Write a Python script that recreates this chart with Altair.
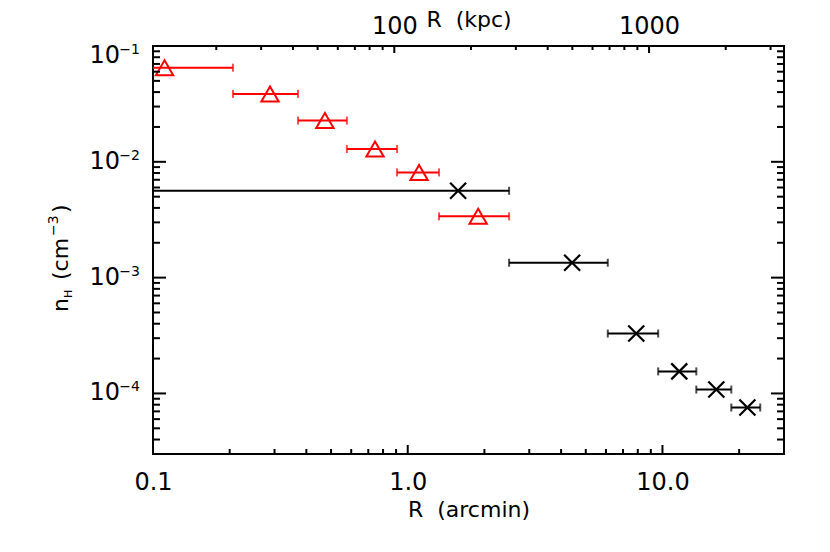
import altair as alt
import pandas as pd

# ---- data ----
red_r  = [0.111, 0.288, 0.473, 0.744, 1.108, 1.89]
red_lo = [0.05, 0.206, 0.371, 0.577, 0.908, 1.327]
red_hi = [0.206, 0.371, 0.577, 0.908, 1.327, 2.50]
red_n  = [0.065, 0.0386, 0.0227, 0.0129, 0.0081, 0.00338]

black_r  = [1.577, 4.42, 7.89, 11.64, 16.27, 21.55]
black_lo = [0.05, 2.50, 6.10, 9.62, 13.58, 18.63]
black_hi = [2.50, 6.10, 9.62, 13.58, 18.63, 24.2]
black_n  = [0.00562, 0.001345, 0.000329, 0.000155, 0.000108, 0.0000756]

x_major = [0.1, 1.0, 10.0]
x_minor = [0.2, 0.3, 0.4, 0.5, 0.6, 0.7, 0.8, 0.9,
           2, 3, 4, 5, 6, 7, 8, 9, 20, 30]
y_major = [1e-4, 1e-3, 1e-2, 1e-1]
y_exp_labels = ["\u22124", "\u22123", "\u22122", "\u22121"]
y_minor = [4e-5, 5e-5, 6e-5, 7e-5, 8e-5, 9e-5,
           2e-4, 3e-4, 4e-4, 5e-4, 6e-4, 7e-4, 8e-4, 9e-4,
           2e-3, 3e-3, 4e-3, 5e-3, 6e-3, 7e-3, 8e-3, 9e-3,
           2e-2, 3e-2, 4e-2, 5e-2, 6e-2, 7e-2, 8e-2, 9e-2]
kpc_major = [100, 1000]
kpc_minor = [20, 30, 40, 50, 60, 70, 80, 90,
             200, 300, 400, 500, 600, 700, 800, 900, 2000, 3000]

X_DOM = [0.1, 30]
Y_DOM = [3e-5, 0.1]
KPC_PER_ARCMIN = 112.9
K_DOM = [X_DOM[0] * KPC_PER_ARCMIN, X_DOM[1] * KPC_PER_ARCMIN]

W, H = 631, 408
FONT = "DejaVu Sans"
NB = "\u00a0"

xs = alt.Scale(type="log", domain=X_DOM)
ys = alt.Scale(type="log", domain=Y_DOM)
ks = alt.Scale(type="log", domain=K_DOM)

red = pd.DataFrame(dict(r=red_r, lo=red_lo, hi=red_hi, n=red_n))
black = pd.DataFrame(dict(r=black_r, lo=black_lo, hi=black_hi, n=black_n))
ylab = pd.DataFrame(dict(v=y_major, e=y_exp_labels))

common_axis = dict(ticks=False, domain=False, grid=False, labelFlush=False,
                   labelFont=FONT, titleFont=FONT, labelColor="black",
                   titleColor="black", titleFontWeight="normal",
                   labelFontSize=24, titleFontSize=22)

x_axis = alt.Axis(values=x_major, labelExpr="format(datum.value, '.1f')",
                  title="R" + NB + " (arcmin)", labelPadding=16, titlePadding=5,
                  **common_axis)
k_axis = alt.Axis(orient="top", values=kpc_major, format="d",
                  title="R" + NB + " (kpc)", labelPadding=8, titlePadding=-17,
                  **common_axis)

# axis-bearing layers (major ticks + labels)
x_axis_layer = alt.Chart(pd.DataFrame({"v": x_major})).mark_rule(color="black", strokeWidth=2).encode(
    x=alt.X("v:Q", scale=xs, axis=x_axis),
    y=alt.value(H), y2=alt.value(H - 9),
)
k_axis_layer = alt.Chart(pd.DataFrame({"v": kpc_major})).mark_rule(color="black", strokeWidth=2).encode(
    x=alt.X("v:Q", scale=ks, axis=k_axis),
    y=alt.value(0), y2=alt.value(7),
)


def bars(df, color):
    rule = alt.Chart(df).mark_rule(color=color, strokeWidth=2, clip=True).encode(
        x=alt.X("lo:Q", scale=xs, axis=None),
        x2="hi:Q",
        y=alt.Y("n:Q", scale=ys, axis=None),
    )
    cap_lo = alt.Chart(df).mark_tick(color=color, orient="vertical", size=8,
                                     thickness=2, clip=True).encode(
        x=alt.X("lo:Q", scale=xs, axis=None),
        y=alt.Y("n:Q", scale=ys, axis=None),
    )
    cap_hi = alt.Chart(df).mark_tick(color=color, orient="vertical", size=8,
                                     thickness=2, clip=True).encode(
        x=alt.X("hi:Q", scale=xs, axis=None),
        y=alt.Y("n:Q", scale=ys, axis=None),
    )
    return [rule, cap_lo, cap_hi]


red_pts = alt.Chart(red).mark_point(shape="triangle-up", filled=False, color="red",
                                    strokeWidth=2, size=300, opacity=1).encode(
    x=alt.X("r:Q", scale=xs, axis=None),
    y=alt.Y("n:Q", scale=ys, axis=None),
)
black_pts = alt.Chart(black).mark_point(shape="M-1,-1L1,1M-1,1L1,-1", filled=False,
                                        color="black", strokeWidth=2.2, size=256,
                                        opacity=1).encode(
    x=alt.X("r:Q", scale=xs, axis=None),
    y=alt.Y("n:Q", scale=ys, axis=None),
)


def xticks(vals, length):
    return alt.Chart(pd.DataFrame({"v": vals})).mark_rule(color="black", strokeWidth=2).encode(
        x=alt.X("v:Q", scale=xs, axis=None),
        y=alt.value(H), y2=alt.value(H - length),
    )


def yticks(vals, length, right=False):
    x0 = W if right else 0
    x1 = W - length if right else length
    return alt.Chart(pd.DataFrame({"v": vals})).mark_rule(color="black", strokeWidth=2).encode(
        y=alt.Y("v:Q", scale=ys, axis=None),
        x=alt.value(x0), x2=alt.value(x1),
    )


def kticks(vals, length):
    return alt.Chart(pd.DataFrame({"v": vals})).mark_rule(color="black", strokeWidth=2).encode(
        x=alt.X("v:Q", scale=ks, axis=None),
        y=alt.value(0), y2=alt.value(length),
    )


# y tick labels: "10" with a raised exponent; the top one sits flush below the frame
def ylabels(df, shift):
    base = alt.Chart(df).mark_text(text="10", font=FONT, fontSize=24, align="right",
                                   baseline="middle", dx=-20, dy=shift, color="black").encode(
        y=alt.Y("v:Q", scale=ys, axis=None), x=alt.value(-13),
    )
    sup = alt.Chart(df).mark_text(font=FONT, fontSize=14, align="right",
                                  baseline="middle", dy=shift - 6, color="black").encode(
        y=alt.Y("v:Q", scale=ys, axis=None), x=alt.value(-13), text="e:N",
    )
    return [base, sup]


ylab_inner = ylab[ylab.v < 0.05]
ylab_top = ylab[ylab.v > 0.05]


# y-axis title: n_H (cm^-3), rotated
def ytitle_piece(txt, size, dx, dy=0):
    return alt.Chart(pd.DataFrame({"t": [txt]})).mark_text(
        font=FONT, fontSize=size, angle=270, align="left", baseline="alphabetic",
        dx=dx, dy=dy, color="black").encode(
        text="t:N", x=alt.value(-85), y=alt.value(266))


ytitle = [
    ytitle_piece("n", 22, 0),
    ytitle_piece("H", 11, 14, 4),
    ytitle_piece("(cm", 22, 32),
    ytitle_piece("\u22123", 14, 76, -10),
    ytitle_piece(")", 22, 99),
]

chart = alt.layer(
    x_axis_layer, k_axis_layer,
    *bars(black, "black"),
    *bars(red, "red"),
    red_pts, black_pts,
    xticks(x_minor, 5),
    yticks(y_major, 13), yticks(y_minor, 7),
    yticks(y_major, 13, right=True), yticks(y_minor, 7, right=True),
    kticks(kpc_minor, 4),
    *ylabels(ylab_inner, 0), *ylabels(ylab_top, 10),
    *ytitle,
).resolve_scale(x="independent").properties(
    width=W, height=H,
    autosize=alt.AutoSizeParams(type="none"),
    padding={"left": 145, "top": 38, "right": 38, "bottom": 90},
    background="white",
).configure_view(stroke="black", strokeWidth=2)

chart.save("out.html", embed_options={"renderer": "svg", "actions": False})
